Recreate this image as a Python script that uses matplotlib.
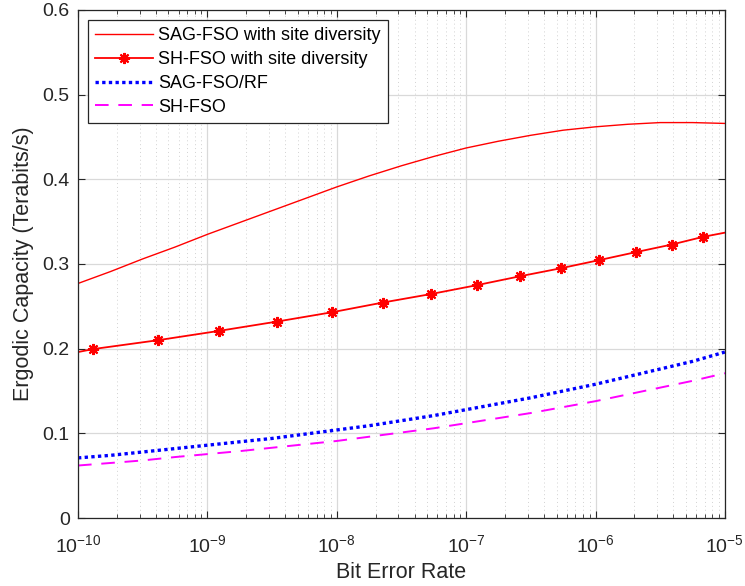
import numpy as np
import matplotlib
matplotlib.use("Agg")
import matplotlib.pyplot as plt
from matplotlib.ticker import NullFormatter, FixedLocator

plt.rcParams['font.family'] = ['Liberation Sans', 'DejaVu Sans']
plt.rcParams['mathtext.fontset'] = 'custom'
plt.rcParams['mathtext.rm'] = 'Liberation Sans'
plt.rcParams['mathtext.it'] = 'Liberation Sans'

# log10 of bit error rate for the smooth curves
log_ber = [-10, -9.75, -9.5, -9.25, -9, -8.75, -8.5, -8.25, -8, -7.75, -7.5,
           -7.25, -7, -6.75, -6.5, -6.25, -6, -5.75, -5.5, -5.25, -5]

sag_site = [0.277, 0.291, 0.306, 0.320, 0.335, 0.349, 0.363, 0.377, 0.391, 0.404, 0.416,
            0.427, 0.437, 0.445, 0.452, 0.458, 0.462, 0.465, 0.467, 0.467, 0.466]
sag_rf = [0.071, 0.074, 0.078, 0.082, 0.086, 0.090, 0.094, 0.099, 0.104, 0.109, 0.115,
          0.121, 0.128, 0.135, 0.142, 0.150, 0.158, 0.167, 0.176, 0.185, 0.196]
sh_fso = [0.062, 0.065, 0.068, 0.072, 0.0755, 0.079, 0.083, 0.087, 0.091, 0.096, 0.101,
          0.106, 0.112, 0.118, 0.124, 0.131, 0.138, 0.146, 0.154, 0.162, 0.171]

# SH-FSO with site diversity (line points, markers drawn on the inner ones)
log_ber_sh = [-10, -9.884, -9.382, -8.910, -8.462, -8.037, -7.643, -7.272, -6.917,
              -6.584, -6.267, -5.974, -5.688, -5.410, -5.170, -5]
sh_site = [0.196, 0.1995, 0.210, 0.221, 0.232, 0.243, 0.2545, 0.2645, 0.275,
           0.2855, 0.295, 0.3045, 0.314, 0.323, 0.332, 0.337]

labels = ['SAG-FSO with site diversity', 'SH-FSO with site diversity',
          'SAG-FSO/RF', 'SH-FSO']
x_exponents = [-10, -9, -8, -7, -6, -5]
y_ticks = [0, 0.1, 0.2, 0.3, 0.4, 0.5, 0.6]
y_ticklabels = ['0', '0.1', '0.2', '0.3', '0.4', '0.5', '0.6']

ber = 10.0 ** np.array(log_ber)
ber_sh = 10.0 ** np.array(log_ber_sh)

fig = plt.figure(figsize=(7.45, 5.86), dpi=100)
ax = fig.add_axes([0.1047, 0.116, 0.8683, 0.867])

ax.plot(ber, sag_site, color='red', lw=1.0, label=labels[0])
ax.plot(ber_sh, sh_site, color='red', lw=1.3, marker=(8, 2, 0), markersize=8,
        markevery=list(range(1, len(ber_sh) - 1)), markeredgewidth=1.5, label=labels[1])
ax.plot(ber, sag_rf, color='blue', lw=2.4, linestyle=(0, (1, 1)), label=labels[2])
ax.plot(ber, sh_fso, color='magenta', lw=1.4, linestyle=(0, (7, 5)), label=labels[3])

ax.set_xscale('log')
ax.set_xlim(1e-10, 1e-5)
ax.set_ylim(0, 0.6)
ax.set_yticks(y_ticks)
ax.set_yticklabels(y_ticklabels)
ax.set_xticks([10.0 ** e for e in x_exponents])
ax.set_xticklabels([r'$\mathregular{10^{%d}}$' % e for e in x_exponents])
minor = [m * 10.0 ** e for e in x_exponents[:-1] for m in range(2, 10)]
ax.xaxis.set_minor_locator(FixedLocator(minor))
ax.xaxis.set_minor_formatter(NullFormatter())

ax.grid(True, which='major', color='#d9d9d9', lw=0.9)
ax.grid(True, which='minor', axis='x', color='#d2d2d2', lw=0.7, linestyle=(0, (1, 3)))
ax.set_axisbelow(True)

ax.tick_params(which='both', direction='in', top=True, right=True,
               labelsize=14, colors='#262626')
ax.tick_params(which='major', length=5)
ax.tick_params(which='minor', length=3)
ax.tick_params(axis='x', pad=12)
ax.tick_params(axis='y', pad=6)
for sp in ax.spines.values():
    sp.set_color('#262626')
    sp.set_linewidth(0.9)

ax.set_xlabel('Bit Error Rate', fontsize=15.5, color='#262626', labelpad=4)
ax.set_ylabel('Ergodic Capacity (Terabits/s)', fontsize=15.5, color='#262626', labelpad=6)

leg = ax.legend(loc='upper left', bbox_to_anchor=(0, 1), fontsize=13,
                fancybox=False, framealpha=1, edgecolor='#262626',
                handlelength=3.2, handletextpad=0.3, borderpad=0.4,
                labelspacing=0.38, borderaxespad=0.55)
leg.get_frame().set_linewidth(0.9)

fig.savefig('out.png', dpi=100)
